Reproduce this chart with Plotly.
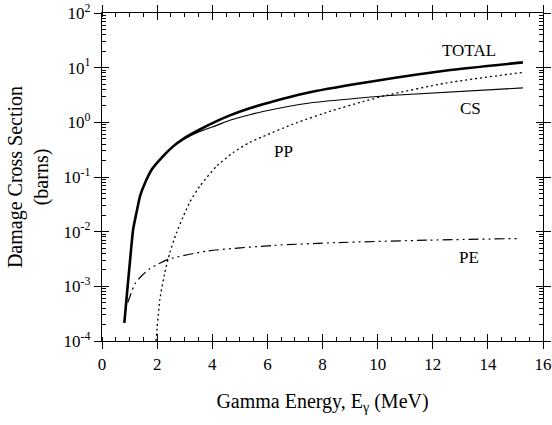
import plotly.graph_objects as go

# ---- data ----
total_e = [0.81, 0.93, 1.01, 1.13, 1.26, 1.38, 1.56, 1.80, 2.16, 2.58, 2.95, 3.55, 4.16, 4.64, 5.36, 5.84, 7.54, 10.07, 12.5, 15.27]
total_v = [2.14e-4, 1.0e-3, 2.69e-3, 0.011, 0.0234, 0.0447, 0.0776, 0.136, 0.224, 0.363, 0.50, 0.74, 1.05, 1.34, 1.81, 2.14, 3.55, 5.89, 8.87, 12.5]

cs_e = [0.81, 0.93, 1.01, 1.13, 1.26, 1.38, 1.56, 1.80, 2.16, 2.58, 2.95, 3.55, 4.16, 4.64, 5.36, 5.84, 7.54, 9.47, 10.43, 15.27]
cs_v = [2.14e-4, 1.0e-3, 2.69e-3, 0.011, 0.0234, 0.0447, 0.0776, 0.136, 0.224, 0.362, 0.485, 0.68, 0.88, 1.09, 1.38, 1.58, 2.26, 2.82, 3.09, 4.27]

pp_e = [1.96, 2.10, 2.28, 2.46, 2.70, 2.95, 3.19, 3.55, 4.16, 4.76, 5.36, 5.84, 7.05, 8.26, 9.47, 10.31, 12.49, 15.27]
pp_v = [1.0e-4, 5.8e-4, 1.8e-3, 4.1e-3, 9.5e-3, 0.019, 0.035, 0.068, 0.158, 0.28, 0.43, 0.55, 0.98, 1.58, 2.4, 3.1, 5.25, 8.2]

pe_e = [0.93, 1.20, 1.45, 1.70, 2.0, 2.43, 3.79, 6.21, 8.5, 11.88, 15.14]
pe_v = [5.0e-4, 1.12e-3, 1.58e-3, 2.04e-3, 2.5e-3, 3.15e-3, 4.4e-3, 5.6e-3, 6.3e-3, 7.0e-3, 7.5e-3]

x_ticks = [0, 2, 4, 6, 8, 10, 12, 14, 16]
y_exps = [-4, -3, -2, -1, 0, 1, 2]

# curve labels: (text, energy, log10 of cross section)
labels = [("TOTAL", 13.33, 1.31), ("CS", 13.37, 0.25),
          ("PP", 6.6, -0.53), ("PE", 13.33, -2.48)]

FONT = "Liberation Serif, Times New Roman, serif"

fig = go.Figure()
fig.add_trace(go.Scatter(x=total_e, y=total_v, mode="lines", name="TOTAL",
                         line=dict(color="black", width=2.6, shape="spline", smoothing=0.6)))
fig.add_trace(go.Scatter(x=cs_e, y=cs_v, mode="lines", name="CS",
                         line=dict(color="black", width=1.1, shape="spline", smoothing=0.6)))
fig.add_trace(go.Scatter(x=pp_e, y=pp_v, mode="lines", name="PP",
                         line=dict(color="black", width=1.3, dash="2px,3px", shape="spline", smoothing=0.6)))
fig.add_trace(go.Scatter(x=pe_e, y=pe_v, mode="lines", name="PE",
                         line=dict(color="black", width=1.2, dash="10px,4px,2px,4px,2px,4px",
                                   shape="spline", smoothing=0.6)))
# invisible trace to anchor the overlay axes (used for crossing tick marks)
fig.add_trace(go.Scatter(x=[None], y=[None], xaxis="x2", yaxis="y2", showlegend=False,
                         hoverinfo="skip"))

for name, x, y in labels:
    fig.add_annotation(x=x, y=y, yref="y", xref="x", text=name, showarrow=False,
                       font=dict(family=FONT, size=17, color="black"))

minor_y = [m * 10 ** e for e in range(-4, 2) for m in range(2, 10)]
ytext = ["10<sup>%d</sup>" % e for e in y_exps]

common_x = dict(range=[0, 16], tickvals=x_ticks, showline=True, linecolor="black",
                linewidth=1.2, showgrid=False, zeroline=False, mirror="ticks",
                tickcolor="black", tickwidth=1.2, ticklen=7, automargin=False)
common_y = dict(type="log", range=[-4, 2], showline=True, linecolor="black",
                linewidth=1.2, showgrid=False, zeroline=False, mirror="ticks",
                tickcolor="black", tickwidth=1.2, ticklen=7, automargin=False,
                tickvals=[10 ** e for e in y_exps])

fig.update_layout(
    width=552, height=425,
    margin=dict(l=102, r=9, t=13, b=84),
    paper_bgcolor="white", plot_bgcolor="white",
    showlegend=False,
    font=dict(family=FONT, size=16, color="black"),
    xaxis=dict(**common_x, ticks="outside",
               ticktext=[str(v) for v in x_ticks], ticklabeloverflow="allow",
               tickfont=dict(family=FONT, size=17),
               minor=dict(dtick=0.5, ticks="inside", ticklen=4, tickcolor="black", tickwidth=1),
               title=dict(text="Gamma Energy, E<sub>γ</sub> (MeV)",
                          font=dict(family=FONT, size=20), standoff=21)),
    yaxis=dict(**common_y, ticks="outside", ticktext=ytext,
               tickfont=dict(family=FONT, size=17),
               minor=dict(tickvals=minor_y, ticks="inside", ticklen=4, tickcolor="black", tickwidth=1),
               title=dict(text="Damage Cross Section<br>(barns)",
                          font=dict(family=FONT, size=20), standoff=9)),
    xaxis2=dict(**common_x, overlaying="x", matches="x", ticks="inside", showticklabels=False,
                anchor="y2"),
    yaxis2=dict(**common_y, overlaying="y", matches="y", ticks="inside", showticklabels=False,
                anchor="x2"),
)

# remove the browser's default page margin so the 552x425 figure fills the window
fig.write_html("out.html", config={"displayModeBar": False},
               post_script="document.body.style.margin='0';document.body.style.overflow='hidden';")
